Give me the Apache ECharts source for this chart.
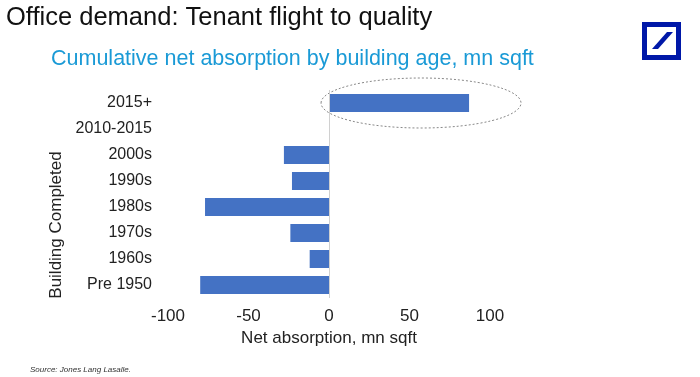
<!DOCTYPE html>
<html>
<head>
<meta charset="utf-8">
<script src="https://cdn.jsdelivr.net/npm/echarts@6/dist/echarts.min.js"></script>
<style>
  html, body { margin: 0; padding: 0; background: #fff; }
  #chart { width: 700px; height: 377px; }
</style>
</head>
<body>
<div id="chart"></div>
<script>
  // building age categories, top to bottom as shown
  const categories = ['2015+', '2010-2015', '2000s', '1990s', '1980s', '1970s', '1960s', 'Pre 1950'];
  const absorption = [87, 0, -28, -23, -77, -24, -12, -80];
  const xTicks = [-100, -50, 0, 50, 100];

  const font = 'Liberation Sans, Arial, sans-serif';
  const chart = echarts.init(document.getElementById('chart'));

  chart.setOption({
    animation: false,
    textStyle: { fontFamily: font },
    grid: { left: 168, right: 210, top: 90, bottom: 79 },
    xAxis: {
      type: 'value',
      min: xTicks[0],
      max: xTicks[xTicks.length - 1],
      interval: 50,
      name: 'Net absorption, mn sqft',
      nameLocation: 'middle',
      nameGap: 26,
      nameTextStyle: { fontSize: 17, color: '#222', fontFamily: font },
      axisLine: { show: false },
      axisTick: { show: false },
      splitLine: { show: false },
      axisLabel: { fontSize: 17, color: '#222', margin: 10, fontFamily: font }
    },
    yAxis: {
      type: 'category',
      inverse: true,
      data: categories,
      axisLine: { show: false },
      axisTick: { show: false },
      axisLabel: { fontSize: 16, color: '#222', margin: 16, fontFamily: font }
    },
    series: [{
      type: 'bar',
      data: absorption,
      barWidth: 18,
      itemStyle: { color: '#4472c4' },
      markLine: {
        silent: true,
        symbol: 'none',
        label: { show: false },
        lineStyle: { color: '#d0d0d0', type: 'solid', width: 1 },
        data: [{ xAxis: 0 }]
      }
    }]
  });

  // ellipse highlight around the 2015+ bar, placed from the axes
  const p0 = chart.convertToPixel({ seriesIndex: 0 }, [0, categories[0]]);
  const p1 = chart.convertToPixel({ seriesIndex: 0 }, [absorption[0], categories[0]]);

  chart.setOption({
    graphic: [
      {
        type: 'text', x: 6, y: 5,
        style: { text: 'Office demand: Tenant flight to quality', font: '25.5px ' + font, fill: '#111', verticalAlign: 'top' }
      },
      {
        type: 'text', x: 51, y: 48,
        style: { text: 'Cumulative net absorption by building age, mn sqft', font: '21.5px ' + font, fill: '#1a9ad6', verticalAlign: 'top' }
      },
      {
        type: 'text', left: 30, top: 366,
        style: { text: 'Source: Jones Lang Lasalle.', font: 'italic 8px ' + font, fill: '#333' }
      },
      {
        type: 'text', x: 56, y: 225, rotation: Math.PI / 2,
        style: { text: 'Building Completed', font: '17px ' + font, fill: '#222', align: 'center', verticalAlign: 'middle' }
      },
      {
        type: 'ellipse',
        shape: { cx: (p0[0] + p1[0]) / 2 + 22, cy: p0[1], rx: 100, ry: 25 },
        style: { fill: 'none', stroke: '#888', lineWidth: 1, lineDash: [2, 2] }
      },
      // logo
      {
        type: 'rect', shape: { x: 642, y: 22, width: 39, height: 38 },
        style: { fill: '#0018a8' }
      },
      {
        type: 'rect', shape: { x: 647, y: 27, width: 29, height: 28 },
        style: { fill: '#fff' }
      },
      {
        type: 'polygon',
        shape: { points: [[667, 32], [673, 32], [658, 49], [652, 49]] },
        style: { fill: '#0018a8' }
      }
    ]
  });
</script>
</body>
</html>
